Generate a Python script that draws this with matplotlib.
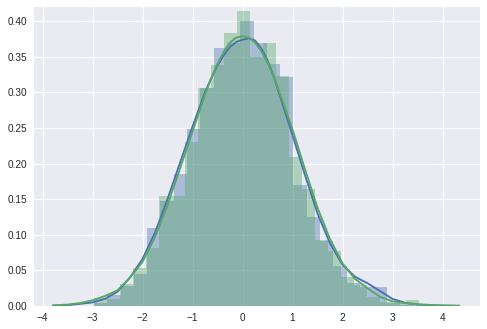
import numpy as np
import matplotlib
matplotlib.use("Agg")
import matplotlib.pyplot as plt

# ---- data ----
blue_bin_start, blue_bin_end = -2.972, 3.412
blue_heights = [0.004, 0.0155, 0.028, 0.045, 0.110, 0.148, 0.186, 0.249, 0.306,
                0.363, 0.370, 0.400, 0.369, 0.340, 0.321, 0.170, 0.125, 0.091,
                0.056, 0.033, 0.026, 0.026, 0.0046, 0.002]

green_bin_start, green_bin_end = -2.974, 3.526
green_heights = [0.0117, 0.010, 0.031, 0.054, 0.082, 0.1545, 0.154, 0.231, 0.306,
                 0.339, 0.384, 0.414, 0.350, 0.369, 0.323, 0.209, 0.165, 0.093,
                 0.077, 0.041, 0.030, 0.012, 0.006, 0.004, 0.0084]

kde_x = [-3.79, -3.5, -3.25, -3.0, -2.75, -2.5, -2.25, -2.0, -1.75, -1.5, -1.25,
         -1.0, -0.75, -0.625, -0.5, -0.375, -0.25, -0.125, 0.0, 0.125, 0.25,
         0.375, 0.5, 0.625, 0.75, 1.0, 1.25, 1.5, 1.75,
         2.0, 2.25, 2.5, 2.75, 3.0, 3.25, 3.5, 3.75, 4.0, 4.33]
blue_kde = [0.0005, 0.0012, 0.003, 0.005, 0.010, 0.020, 0.040, 0.066, 0.103,
            0.150, 0.201, 0.252, 0.300, 0.320, 0.338, 0.352, 0.364, 0.371,
            0.374, 0.376, 0.373, 0.362, 0.345, 0.322, 0.295, 0.240, 0.184,
            0.130, 0.088, 0.058, 0.041, 0.032, 0.021, 0.010, 0.0045, 0.002,
            0.001, 0.0005, 0.0002]
green_kde = [0.0008, 0.002, 0.004, 0.008, 0.014, 0.022, 0.040, 0.062, 0.097,
             0.142, 0.193, 0.245, 0.297, 0.320, 0.340, 0.357, 0.370, 0.377,
             0.379, 0.377, 0.370, 0.358, 0.342, 0.322, 0.298, 0.248, 0.192,
             0.138, 0.094, 0.060, 0.038, 0.025, 0.013, 0.0065, 0.004, 0.0025,
             0.0015, 0.0008, 0.0003]

x_ticks = [-4, -3, -2, -1, 0, 1, 2, 3, 4]
y_ticks = [0.00, 0.05, 0.10, 0.15, 0.20, 0.25, 0.30, 0.35, 0.40]

BLUE = "#4C72B0"
GREEN = "#55A868"

plt.rcParams["font.family"] = ["Liberation Sans", "DejaVu Sans"]

fig = plt.figure(figsize=(487 / 72, 329 / 72), dpi=72)
ax = fig.add_axes([34 / 487, 23 / 329, 446 / 487, 299 / 329])
ax.set_facecolor("#EAEAF2")
for s in ax.spines.values():
    s.set_visible(False)
ax.grid(True, color="white", linewidth=1.1)
ax.set_axisbelow(True)

blue_edges = np.linspace(blue_bin_start, blue_bin_end, len(blue_heights) + 1)
green_edges = np.linspace(green_bin_start, green_bin_end, len(green_heights) + 1)

ax.bar(blue_edges[:-1], blue_heights, width=np.diff(blue_edges), align="edge",
       color=BLUE, alpha=0.4, linewidth=0)
ax.plot(kde_x, blue_kde, color=BLUE, linewidth=1.9, solid_joinstyle="round")
ax.bar(green_edges[:-1], green_heights, width=np.diff(green_edges), align="edge",
       color=GREEN, alpha=0.4, linewidth=0)
ax.plot(kde_x, green_kde, color=GREEN, linewidth=1.9, solid_joinstyle="round")

ax.set_xlim(-4.17, 4.75)
ax.set_ylim(0, 0.42)
ax.set_xticks(x_ticks)
ax.set_yticks(y_ticks)
ax.set_xticklabels([("\u2212" + str(-t)) if t < 0 else str(t) for t in x_ticks])
ax.set_yticklabels([f"{t:.2f}" for t in y_ticks])
ax.tick_params(length=0, labelsize=10, colors="#262626", pad=7)

fig.savefig("out.png", dpi=72)
